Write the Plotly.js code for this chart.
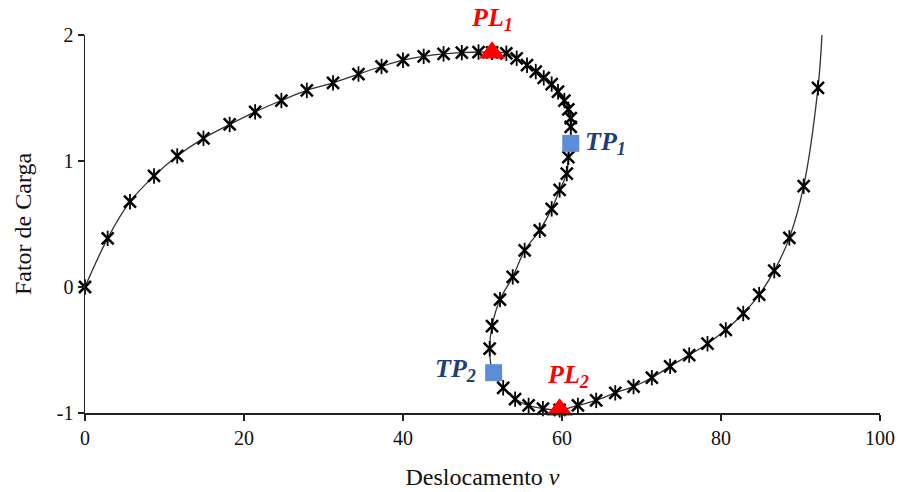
<!DOCTYPE html>
<html>
<head>
<meta charset="utf-8">
<script src="https://cdn.plot.ly/plotly-3.0.1.min.js"></script>
<style>html,body{margin:0;padding:0;background:#fff;}#chart{width:903px;height:492px;}</style>
</head>
<body>
<div id="chart"></div>
<script>
// Equilibrium path: displacement v and load factor
const dispV = [0, 2.85, 5.66, 8.68, 11.6, 14.9, 18.2, 21.4, 24.7, 27.9, 31.2, 34.4, 37.3, 40.0, 42.6, 45.1, 47.4, 49.5, 51.2, 53.0, 54.3, 55.6, 56.7, 57.7, 58.7, 59.5, 60.3, 60.8, 61.1, 61.1, 61.1, 60.8, 60.6, 59.7, 58.7, 57.2, 55.3, 53.8, 52.2, 51.2, 50.9, 51.3, 52.6, 54.1, 55.8, 57.6, 59.7, 62.0, 64.3, 66.7, 69.0, 71.3, 73.6, 76.0, 78.3, 80.6, 82.8, 84.8, 86.7, 88.6, 90.4, 92.2];
const loadF = [0, 0.386, 0.677, 0.881, 1.04, 1.18, 1.29, 1.39, 1.48, 1.56, 1.62, 1.69, 1.75, 1.80, 1.83, 1.85, 1.86, 1.865, 1.862, 1.855, 1.815, 1.76, 1.71, 1.66, 1.61, 1.55, 1.48, 1.41, 1.34, 1.27, 1.14, 1.03, 0.90, 0.77, 0.62, 0.45, 0.29, 0.08, -0.10, -0.31, -0.49, -0.68, -0.80, -0.89, -0.94, -0.965, -0.975, -0.94, -0.90, -0.84, -0.79, -0.72, -0.63, -0.54, -0.45, -0.34, -0.21, -0.06, 0.13, 0.39, 0.80, 1.58];
const curveEndV = [92.7];
const curveEndF = [2.0];
// Limit points and turning points
const plX = [51.2, 59.7];
const plY = [1.86, -0.975];
const plLabels = ["PL<sub>1</sub>", "PL<sub>2</sub>"];
const tpX = [61.1, 51.4];
const tpY = [1.14, -0.68];
const tpLabels = ["TP<sub>1</sub>", "TP<sub>2</sub>"];
// Axes
const xTicks = [0, 20, 40, 60, 80, 100];
const yTicks = [-1, 0, 1, 2];

const serif = "Liberation Serif, Times New Roman, serif";

const traces = [
  {x: dispV.concat(curveEndV), y: loadF.concat(curveEndF), mode: 'lines', type: 'scatter',
   line: {color: '#333', width: 1.3, shape: 'spline', smoothing: 1}, hoverinfo: 'skip', cliponaxis: false},
  {x: dispV, y: loadF, mode: 'markers', type: 'scatter', cliponaxis: false,
   marker: {symbol: 'x-thin-open', size: 12, color: '#000', line: {color: '#000', width: 2.5}}},
  {x: dispV, y: loadF, mode: 'markers', type: 'scatter', cliponaxis: false,
   marker: {symbol: 'line-ns-open', size: 11, color: '#000', line: {color: '#000', width: 1.8}}},
  {x: tpX, y: tpY, mode: 'markers', type: 'scatter', cliponaxis: false,
   marker: {symbol: 'square', size: 17, color: '#5B8ED6'}},
  {x: plX, y: plY, mode: 'markers', type: 'scatter', cliponaxis: false,
   marker: {symbol: 'triangle-up', size: 23, color: '#FF0000'}}
];

const labFont = (c) => ({family: serif, size: 26, color: c});
const annotations = [
  {x: plX[0], y: plY[0], yshift: 34, xref: 'x', yref: 'y', text: '<b><i>' + plLabels[0] + '</i></b>', showarrow: false, font: labFont('#FF0000'), xanchor: 'center', yanchor: 'middle'},
  {x: 60.7, y: -0.71, xref: 'x', yref: 'y', text: '<b><i>' + plLabels[1] + '</i></b>', showarrow: false, font: labFont('#FF0000'), xanchor: 'center', yanchor: 'middle'},
  {x: 62.6, y: 1.14, xref: 'x', yref: 'y', text: '<b><i>' + tpLabels[0] + '</i></b>', showarrow: false, font: labFont('#1F3F7A'), xanchor: 'left', yanchor: 'middle'},
  {x: 49.4, y: -0.66, xref: 'x', yref: 'y', text: '<b><i>' + tpLabels[1] + '</i></b>', showarrow: false, font: labFont('#1F3F7A'), xanchor: 'right', yanchor: 'middle'}
];

const layout = {
  width: 903, height: 492,
  margin: {l: 85, r: 23, t: 35, b: 79},
  paper_bgcolor: '#fff', plot_bgcolor: '#fff',
  showlegend: false,
  font: {family: serif, size: 19, color: '#111'},
  xaxis: {range: [0, 100], tickvals: xTicks, ticktext: xTicks.map(String), showgrid: false, zeroline: false,
    showline: true, linecolor: '#222', linewidth: 1.5, ticks: 'outside', ticklen: 6, tickwidth: 1.5, tickcolor: '#222',
    tickfont: {family: serif, size: 20, color: '#111'},
    title: {text: 'Deslocamento <i>v</i>', font: {family: serif, size: 24, color: '#111'}, standoff: 20}},
  yaxis: {range: [-1, 2], tickvals: yTicks, ticktext: yTicks.map(String), showgrid: false, zeroline: false,
    showline: true, linecolor: '#222', linewidth: 1.5, ticks: 'outside', ticklen: 6, tickwidth: 1.5, tickcolor: '#222',
    tickfont: {family: serif, size: 20, color: '#111'},
    title: {text: 'Fator de Carga', font: {family: serif, size: 24, color: '#111'}, standoff: 18}},
  annotations: annotations
};

Plotly.newPlot('chart', traces, layout, {staticPlot: true, displayModeBar: false});
</script>
</body>
</html>
